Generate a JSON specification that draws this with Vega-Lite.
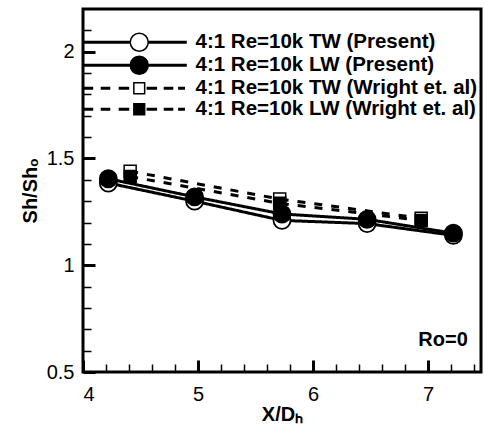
{
  "$schema": "https://vega.github.io/schema/vega-lite/v6.json",
  "width": 398,
  "height": 363,
  "autosize": {"type": "none"},
  "padding": {"left": 83, "top": 9, "right": 4, "bottom": 68},
  "background": "white",
  "config": {
    "view": {"stroke": "black", "strokeWidth": 3},
    "axis": {
      "grid": false,
      "domain": false,
      "tickColor": "black",
      "labelColor": "black",
      "titleColor": "black",
      "labelFont": "Liberation Sans",
      "titleFont": "Liberation Sans"
    }
  },
  "datasets": {
    "pts": [
      {"series": "4:1 Re=10k TW (Present)", "x": 4.22, "y": 1.385},
      {"series": "4:1 Re=10k TW (Present)", "x": 4.97, "y": 1.30},
      {"series": "4:1 Re=10k TW (Present)", "x": 5.73, "y": 1.21},
      {"series": "4:1 Re=10k TW (Present)", "x": 6.47, "y": 1.195},
      {"series": "4:1 Re=10k TW (Present)", "x": 7.22, "y": 1.14},
      {"series": "4:1 Re=10k LW (Present)", "x": 4.22, "y": 1.405},
      {"series": "4:1 Re=10k LW (Present)", "x": 4.97, "y": 1.32},
      {"series": "4:1 Re=10k LW (Present)", "x": 5.73, "y": 1.24},
      {"series": "4:1 Re=10k LW (Present)", "x": 6.47, "y": 1.215},
      {"series": "4:1 Re=10k LW (Present)", "x": 7.22, "y": 1.15},
      {"series": "4:1 Re=10k TW (Wright et. al)", "x": 4.41, "y": 1.44},
      {"series": "4:1 Re=10k TW (Wright et. al)", "x": 5.71, "y": 1.31},
      {"series": "4:1 Re=10k TW (Wright et. al)", "x": 6.94, "y": 1.22},
      {"series": "4:1 Re=10k LW (Wright et. al)", "x": 4.41, "y": 1.415},
      {"series": "4:1 Re=10k LW (Wright et. al)", "x": 5.71, "y": 1.29},
      {"series": "4:1 Re=10k LW (Wright et. al)", "x": 6.94, "y": 1.21}
    ],
    "notes": [{"label": "Ro=0", "x": 7.13, "y": 0.65}]
  },
  "layer": [
    {
      "data": {"name": "pts"},
      "mark": {"type": "line", "strokeWidth": 3, "color": "black"},
      "encoding": {
        "x": {
          "field": "x", "type": "quantitative",
          "scale": {"domain": [4, 7.46], "nice": false, "zero": false},
          "axis": {
            "orient": "bottom",
            "values": [4.2, 4.4, 4.6, 4.8, 5.2, 5.4, 5.6, 5.8, 6.2, 6.4, 6.6, 6.8, 7.2, 7.4],
            "tickSize": -8, "tickWidth": 1.5, "labels": false, "title": null
          }
        },
        "y": {
          "field": "y", "type": "quantitative",
          "scale": {"domain": [0.5, 2.2], "nice": false, "zero": false},
          "axis": {
            "orient": "left",
            "values": [0.6, 0.7, 0.8, 0.9, 1.1, 1.2, 1.3, 1.4, 1.6, 1.7, 1.8, 1.9, 2.1],
            "tickSize": -8, "tickWidth": 1.5, "labels": false, "title": null
          }
        },
        "detail": {"field": "series"},
        "strokeDash": {
          "condition": {"test": "indexof(datum.series, 'Wright') >= 0", "value": [8, 9]},
          "value": [1, 0]
        }
      }
    },
    {
      "data": {"name": "pts"},
      "transform": [{"filter": "indexof(datum.series, 'Wright') >= 0"}],
      "mark": {"type": "point", "shape": "square", "filled": true, "size": 144, "stroke": "black", "strokeWidth": 1.5, "opacity": 1},
      "encoding": {
        "x": {"field": "x", "type": "quantitative", "axis": null},
        "y": {"field": "y", "type": "quantitative", "axis": null},
        "fill": {"condition": {"test": "indexof(datum.series, 'TW') >= 0", "value": "white"}, "value": "black"}
      }
    },
    {
      "data": {"name": "pts"},
      "transform": [{"filter": "indexof(datum.series, 'Present') >= 0"}],
      "mark": {"type": "point", "shape": "circle", "filled": true, "size": 289, "stroke": "black", "strokeWidth": 1.8, "opacity": 1},
      "encoding": {
        "x": {
          "field": "x", "type": "quantitative",
          "axis": {
            "orient": "bottom",
            "values": [4, 5, 6, 7],
            "tickSize": -12, "tickWidth": 3,
            "labelFontSize": 20, "labelPadding": 24,
            "title": "X/Dₕ", "titleFontSize": 20, "titleFontWeight": "bold", "titlePadding": 0
          }
        },
        "y": {
          "field": "y", "type": "quantitative",
          "axis": {
            "orient": "left",
            "values": [0.5, 1, 1.5, 2],
            "format": "~g",
            "tickSize": -12, "tickWidth": 3,
            "labelFontSize": 20, "labelPadding": 21,
            "title": "Sh/Shₒ", "titleFontSize": 20, "titleFontWeight": "bold", "titlePadding": 6
          }
        },
        "fill": {"condition": {"test": "indexof(datum.series, 'TW') >= 0", "value": "white"}, "value": "black"}
      }
    },
    {
      "data": {"name": "pts"},
      "mark": {"type": "point", "filled": true, "size": 324, "stroke": "black", "strokeWidth": 1.5, "opacity": 0},
      "encoding": {
        "x": {"field": "x", "type": "quantitative", "axis": null},
        "y": {"field": "y", "type": "quantitative", "axis": null},
        "shape": {
          "field": "series",
          "title": null,
          "scale": {
            "domain": ["4:1 Re=10k TW (Present)", "4:1 Re=10k LW (Present)", "4:1 Re=10k TW (Wright et. al)", "4:1 Re=10k LW (Wright et. al)"],
            "range": [
              "M-6.1,-0.083H-1V0.083H-6.1Z M1,-0.083H5.2V0.083H1Z M1,0C1,0.5523,0.5523,1,0,1C-0.5523,1,-1,0.5523,-1,0C-1,-0.5523,-0.5523,-1,0,-1C0.5523,-1,1,-0.5523,1,0Z",
              "M-6.1,-0.083H-1V0.083H-6.1Z M1,-0.083H5.2V0.083H1Z M1,0C1,0.5523,0.5523,1,0,1C-0.5523,1,-1,0.5523,-1,0C-1,-0.5523,-0.5523,-1,0,-1C0.5523,-1,1,-0.5523,1,0Z",
              "M-6.1,-0.083H-5.2V0.083H-6.1Z M-4.2,-0.083H-3.3V0.083H-4.2Z M-2.2,-0.083H-1.2V0.083H-2.2Z M0.9,-0.083H1.9V0.083H0.9Z M2.8,-0.083H3.7V0.083H2.8Z M4.4,-0.083H5.0V0.083H4.4Z M-0.6,-0.6H0.6V0.6H-0.6Z",
              "M-6.1,-0.083H-5.2V0.083H-6.1Z M-4.2,-0.083H-3.3V0.083H-4.2Z M-2.2,-0.083H-1.2V0.083H-2.2Z M0.9,-0.083H1.9V0.083H0.9Z M2.8,-0.083H3.7V0.083H2.8Z M4.4,-0.083H5.0V0.083H4.4Z M-0.6,-0.6H0.6V0.6H-0.6Z"
            ]
          },
          "legend": {
            "orient": "top-left",
            "offset": 23,
            "rowPadding": -6,
            "symbolOffset": 23,
            "symbolOpacity": 1,
            "symbolSize": 324,
            "symbolStrokeColor": "black",
            "symbolStrokeWidth": 1.5,
            "labelOffset": 46,
            "labelFontSize": 20.5,
            "labelFontWeight": "bold",
            "labelColor": "black",
            "labelLimit": 500,
            "encode": {"symbols": {"update": {"stroke": {"value": "black"}, "strokeWidth": {"value": 1.5}, "opacity": {"value": 1}}}}
          }
        },
        "fill": {
          "field": "series",
          "title": null,
          "scale": {
            "domain": ["4:1 Re=10k TW (Present)", "4:1 Re=10k LW (Present)", "4:1 Re=10k TW (Wright et. al)", "4:1 Re=10k LW (Wright et. al)"],
            "range": ["white", "black", "white", "black"]
          },
          "legend": {
            "orient": "top-left",
            "offset": 23,
            "rowPadding": -6,
            "symbolOffset": 23,
            "symbolOpacity": 1,
            "symbolSize": 324,
            "symbolStrokeColor": "black",
            "symbolStrokeWidth": 1.5,
            "labelOffset": 46,
            "labelFontSize": 20.5,
            "labelFontWeight": "bold",
            "labelColor": "black",
            "labelLimit": 500,
            "encode": {"symbols": {"update": {"stroke": {"value": "black"}, "strokeWidth": {"value": 1.5}, "opacity": {"value": 1}}}}
          }
        }
      }
    },
    {
      "data": {"name": "notes"},
      "mark": {"type": "text", "font": "Liberation Sans", "fontSize": 20, "fontWeight": "bold", "color": "black", "align": "center", "baseline": "middle"},
      "encoding": {
        "x": {"field": "x", "type": "quantitative", "axis": null},
        "y": {"field": "y", "type": "quantitative", "axis": null},
        "text": {"field": "label"}
      }
    }
  ],
  "resolve": {"axis": {"x": "independent", "y": "independent"}}
}
